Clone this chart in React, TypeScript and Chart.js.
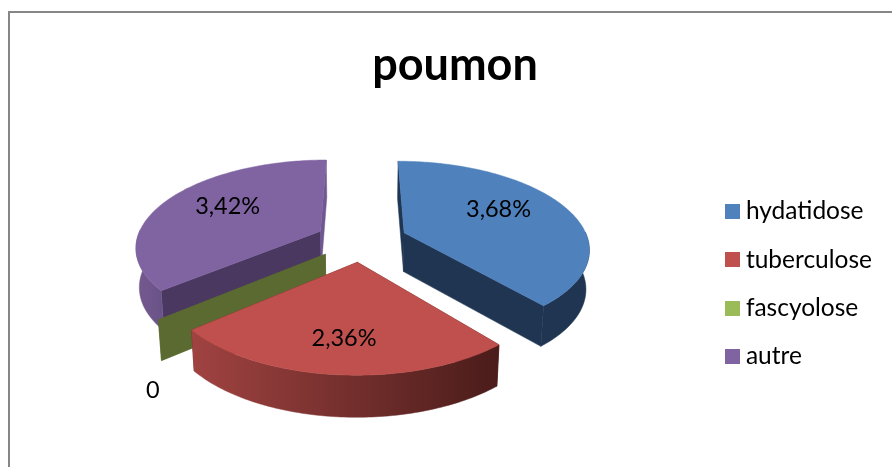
import React, { useEffect, useRef } from "react";
import { Chart, registerables } from "chart.js";

Chart.register(...registerables);

const categories = ["hydatidose", "tuberculose", "fascyolose", "autre"];
const values = [3.68, 2.36, 0, 3.42];
const valueLabels = ["3,68%", "2,36%", "0", "3,42%"];
const topColors = ["#4f81bd", "#c0504d", "#9bbb59", "#8064a2"];
const startWallColors = ["#1f3552", "#5a2523", "#5a6a30", "#4a3860"];
const endWallColors = ["#1f3552", "#5a2523", "#5a6a30", "#6f5791"];
const outerWallFrom = ["#1f3552", "#a04341", "#5a6a30", "#75598f"];
const outerWallTo = ["#1f3552", "#4a1c1a", "#5a6a30", "#6a5388"];
const labelRadius = [0.58, 0.68, 1.03, 0.6];
const labelDrop = [-7, 5, 68, -5];
const drawOrder = [0, 3, 2, 1];

// Projection of the unit pie plane on the page
const CX = 361.5, CY = 240, FX = 184, FY = 85.7, PERSP = 6, EXPLODE = 0.25, DEPTH = 39, BOTTOM_SHRINK = 0.985;

function project(X: number, Y: number, bottom = false) {
  const s = PERSP / (PERSP - Y);
  const k = bottom ? BOTTOM_SHRINK : 1;
  const h = bottom ? DEPTH * (1 + (s - 1) * 0.3) : 0;
  return { x: CX + X * FX * s * k, y: CY + Y * FY * s + h };
}

function poly(ctx: CanvasRenderingContext2D, pts: { x: number; y: number }[], fill: any) {
  ctx.beginPath();
  pts.forEach((p, i) => (i ? ctx.lineTo(p.x, p.y) : ctx.moveTo(p.x, p.y)));
  ctx.closePath();
  ctx.fillStyle = fill;
  ctx.strokeStyle = fill;
  ctx.lineWidth = 0.5;
  ctx.fill();
  ctx.stroke();
}

const pie3d = {
  id: "pie3d",
  beforeDraw(chart: any) {
    const ctx = chart.ctx;
    ctx.save();
    ctx.strokeStyle = "#868686";
    ctx.lineWidth = 2;
    ctx.beginPath();
    ctx.moveTo(9, chart.height);
    ctx.lineTo(9, 12);
    ctx.lineTo(chart.width, 12);
    ctx.stroke();
    ctx.restore();
  },
  beforeDatasetsDraw(chart: any) {
    const ctx: CanvasRenderingContext2D = chart.ctx;
    const arcs = chart.getDatasetMeta(0).data;
    ctx.save();
    drawOrder.forEach((i) => {
      const { startAngle, endAngle } = arcs[i];
      const mid = (startAngle + endAngle) / 2;
      const ox = Math.cos(mid) * EXPLODE, oy = Math.sin(mid) * EXPLODE;
      const steps = Math.max(1, Math.ceil(((endAngle - startAngle) * 180) / Math.PI));
      const rimTop: any[] = [], rimBottom: any[] = [], frontTop: any[] = [], frontBottom: any[] = [];
      for (let k = 0; k <= steps; k++) {
        const a = startAngle + ((endAngle - startAngle) * k) / steps;
        const X = ox + Math.cos(a), Y = oy + Math.sin(a);
        rimTop.push(project(X, Y));
        rimBottom.push(project(X, Y, true));
        if (Math.sin(a) > -0.02) {
          frontTop.push(project(X, Y));
          frontBottom.push(project(X, Y, true));
        }
      }
      const apexTop = project(ox, oy), apexBottom = project(ox, oy, true);
      poly(ctx, [apexTop, rimTop[0], rimBottom[0], apexBottom], startWallColors[i]);
      poly(ctx, [apexTop, rimTop[steps], rimBottom[steps], apexBottom], endWallColors[i]);
      if (steps > 1) {
        const xs = frontTop.map((p) => p.x);
        const g = ctx.createLinearGradient(Math.min(...xs), 0, Math.max(...xs), 0);
        g.addColorStop(0, outerWallFrom[i]);
        g.addColorStop(1, outerWallTo[i]);
        poly(ctx, [...frontTop, ...frontBottom.slice().reverse()], g);
        poly(ctx, [apexTop, ...rimTop], topColors[i]);
      }
    });
    ctx.fillStyle = "#000";
    ctx.font = "23.5px Lato";
    ctx.textAlign = "center";
    ctx.textBaseline = "middle";
    arcs.forEach((arc: any, i: number) => {
      const mid = (arc.startAngle + arc.endAngle) / 2;
      const r = labelRadius[i] + EXPLODE;
      const p = project(Math.cos(mid) * r, Math.sin(mid) * r);
      ctx.fillText(valueLabels[i], p.x, p.y + labelDrop[i]);
    });
    ctx.restore();
    return false;
  },
};

function legendSwatch(color: string) {
  const c = document.createElement("canvas");
  c.width = 15;
  c.height = 15;
  const g = c.getContext("2d")!;
  g.fillStyle = color;
  g.fillRect(0, 0, 15, 15);
  return c;
}

export default function App() {
  const ref = useRef<HTMLCanvasElement>(null);
  useEffect(() => {
    const chart = new Chart(ref.current!, {
      type: "pie",
      data: {
        labels: categories,
        datasets: [{ data: values, backgroundColor: topColors, borderWidth: 0 }],
      },
      plugins: [pie3d],
      options: {
        animation: false,
        responsive: false,
        layout: { padding: { left: 28, right: 10, top: 38, bottom: 0 } },
        plugins: {
          tooltip: { enabled: false },
          title: {
            display: true,
            text: "poumon",
            color: "#000",
            font: { family: "Lato", size: 45, weight: "bold" },
            padding: { top: 0, bottom: 9 },
          },
          legend: {
            position: "right",
            fullSize: false,
            labels: {
              color: "#000",
              font: { family: "Lato", size: 24.5 },
              usePointStyle: true,
              pointStyleWidth: 2.5,
              padding: 23.8,
              generateLabels: () =>
                categories.map((t, i) => ({
                  text: t,
                  fillStyle: topColors[i],
                  strokeStyle: topColors[i],
                  lineWidth: 0,
                  hidden: false,
                  index: i,
                  pointStyle: legendSwatch(topColors[i]),
                })),
            },
          },
        },
      },
    } as any);
    return () => chart.destroy();
  }, []);
  return (
    <canvas
      ref={ref}
      width={892}
      height={467}
      style={{ position: "fixed", left: 0, top: 0, width: 892, height: 467, background: "#fff" }}
    />
  );
}
